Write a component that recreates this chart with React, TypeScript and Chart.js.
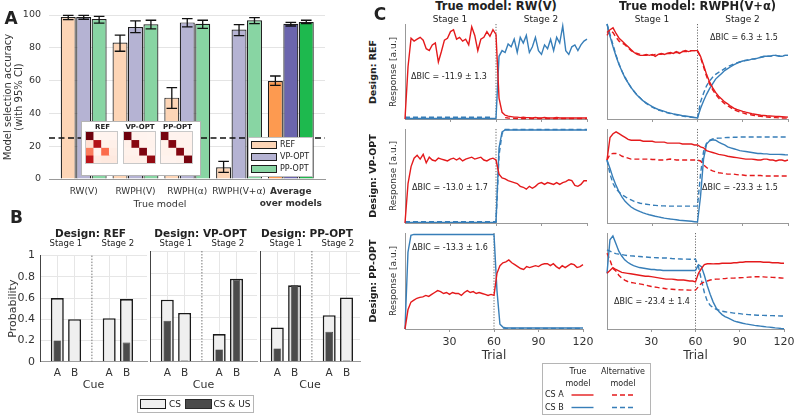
import React, { useEffect, useRef } from 'react';
import { Chart, registerables } from 'chart.js';

Chart.register(...registerables);
Chart.defaults.font.family = "'DejaVu Sans', sans-serif";
Chart.defaults.color = '#333';

const _ = null;

// ---------------- Panel A ----------------
const trueModels = ['RW(V)', 'RWPH(V)', 'RWPH(α)', 'RWPH(V+α)', 'Average'];
const designs = ['REF', 'VP-OPT', 'PP-OPT'];
const accREF = [98.8, 83.2, 49.6, 7.1, 59.7];
const accVP = [98.8, 92.7, 95.5, 91.1, 94.7];
const accPP = [97.6, 94.3, 94.7, 96.8, 95.7];
const ciLoREF = [97.2, 77.9, 43.1, 4.0, 57.1];
const ciHiREF = [99.8, 87.7, 55.7, 10.7, 62.8];
const ciLoVP = [97.4, 89.3, 92.7, 87.4, 93.3];
const ciHiVP = [99.8, 96.4, 97.8, 94.1, 95.5];
const ciLoPP = [95.1, 91.5, 91.9, 94.7, 94.7];
const ciHiPP = [99.2, 96.8, 96.8, 98.4, 96.8];
const chanceLevel = 25;
const accTicks = [0, 20, 40, 60, 80, 100];
const barLight = ['#fdd5b6', '#b5b3d3', '#88d5a3'];
const barDark = ['#fd9a50', '#6b65ad', '#1eb94e'];

// confusion matrices (rows: true model, cols: selected model), percent
const confREF = [[98.5, 0.5, 0.5, 0.5], [12, 83, 2, 3], [44, 1, 49.5, 5.5], [80, 6, 7, 7]];
const confVP = [[98.5, 1, 0.5, 0], [3, 93.5, 2, 1.5], [2, 1.5, 95.5, 1], [3, 3, 3, 91]];
const confPP = [[97, 1, 1, 1], [2, 94.5, 2, 1.5], [2, 2, 94.5, 1.5], [1, 1, 1.5, 96.5]];
const heatCols = ['RW(V)', 'RWPH(V)', 'RWPH(α)', 'RWPH(V+α)'];
const redsStops = ['#fff5f0', '#fee0d2', '#fcbba1', '#fc9272', '#fb6a4a', '#ef3b2c', '#cb181d', '#a50f15', '#67000d'];

// ---------------- Panel B ----------------
const cueLabels = ['A', 'B', 'A', 'B'];
const cuePos = [1, 2, 4, 5];
const stageSplitB = 3;
const probTicks = [0, 0.2, 0.4, 0.6, 0.8, 1];
const probTickLabels = ['0', '0.2', '0.4', '0.6', '0.8', '1'];
const csREF = [0.60, 0.40, 0.41, 0.59];
const csusREF = [0.20, 0, 0, 0.18];
const csVP = [0.56, 0.44, 0.25, 0.75];
const csusVP = [0.37, 0.01, 0.11, 0.74];
const csPP = [0.31, 0.69, 0.42, 0.58];
const csusPP = [0.12, 0.69, 0.27, 0.01];

// ---------------- Panel C ----------------
const trials = [0, 2, 4, 6, 8, 10, 12, 14, 16, 18, 20, 22, 24, 26, 28, 30, 32, 34, 36, 38, 40, 42, 44, 46, 48, 50, 52, 54, 56, 58, 60, 62, 64, 66, 68, 70, 72, 74, 76, 78, 80, 82, 84, 86, 88, 90, 92, 94, 96, 98, 100, 102, 104, 106, 108, 110, 112, 114, 116, 118, 120];
const trialTicks = [30, 60, 90, 120];
const stageSplitC = 60;

// REF design, true model RW(V)
const refRwRedTrue = [0, 55, 85, 82, 84, 86, 83, 74, 72, 78,
  80, 60, 71, 83, 85, 92, 94, 84, 86, 82,
  84, 78, 97, 88, 72, 84, 86, 92, 87, 94,
  89, 22, 7, 4, 3, 2.5, 2, 2, 1.5, 2,
  1.5, 1.5, 1, 1.5, 1, 1, 1.5, 1, 1, 1,
  1.5, 1, 1, 1, 1, 1, 1, 1, 1, 1,
  1];
const refRwRedAlt = [_, _, _, _, _, _, _, _, _, _,
  _, _, _, _, _, _, _, _, _, _,
  _, _, _, _, _, _, _, _, _, _,
  _, _, _, 1.5, 1, 0.8, 0.7, 0.6, 0.6, 0.6,
  0.5, 0.5, 0.5, 0.5, 0.5, 0.5, 0.5, 0.5, 0.5, 0.5,
  0.5, 0.5, 0.5, 0.5, 0.5, 0.5, 0.5, 0.5, 0.5, 0.5,
  0.5];
const refRwBlueTrue = [0.5, 0.5, 0.5, 0.5, 0.5, 0.5, 0.5, 0.5, 0.5, 0.5,
  0.5, 0.5, 0.5, 0.5, 0.5, 0.5, 0.5, 0.5, 0.5, 0.5,
  0.5, 0.5, 0.5, 0.5, 0.5, 0.5, 0.5, 0.5, 0.5, 0.5,
  0.5, 66, 72, 70, 79, 76, 84, 70, 86, 80,
  88, 70, 76, 86, 72, 68, 78, 74, 84, 72,
  86, 80, 98, 72, 68, 76, 78, 72, 78, 82,
  84];
const refRwBlueAlt = [1.8, 1.8, 1.8, 1.8, 1.8, 1.8, 1.8, 1.8, 1.8, 1.8,
  1.8, 1.8, 1.8, 1.8, 1.8, 1.8, 1.8, 1.8, 1.8, 1.8,
  1.8, 1.8, 1.8, 1.8, 1.8, 1.8, 1.8, 1.8, 1.8, 1.8,
  _, _, _, _, _, _, _, _, _, _,
  _, _, _, _, _, _, _, _, _, _,
  _, _, _, _, _, _, _, _, _, _,
  _];

// REF design, true model RWPH(V+α)
const refPhRedTrue = [91, 94, 96, 90, 85, 82, 79, 76, 73, 70,
  68, 67, 67, 68, 67, 68, 66, 68, 69, 68,
  69, 70, 69, 71, 69, 71, 72, 71, 72, 72,
  72, 66, 57, 47, 39, 33, 28, 24, 21, 18,
  16, 13.5, 11.5, 10, 9, 8, 7.2, 6.5, 5.5, 5,
  4.5, 4, 3.7, 3.4, 3.2, 3, 2.8, 2.6, 2.4, 2.2,
  2];
const refPhRedAlt = [88, 93, 91, 86, 82, 80, 78, 75, 72, 70,
  69, 68, 67, 67, 68, 67, 68, 68, 68, 69,
  69, 69, 70, 70, 70, 71, 71, 71, 72, 72,
  72, 65, 55, 45, 37, 31, 26, 22, 19, 16,
  14, 12, 10, 8.5, 7.5, 6.5, 5.5, 4.8, 4.2, 3.6,
  3.2, 2.8, 2.4, 2.1, 1.8, 1.6, 1.4, 1.2, 1.1, 1,
  0.9];
const refPhBlueTrue = [100, 87, 76, 66, 57, 50, 43, 38, 33, 29,
  25, 22, 19, 17, 15, 13, 11.5, 10, 9, 8,
  7, 6.2, 5.4, 4.8, 4.2, 3.6, 3.2, 2.7, 2.2, 1.6,
  1, 11, 19, 26, 32, 37, 42, 45, 48, 51,
  53, 55, 57, 58.5, 60, 61, 61.5, 62, 63, 63,
  64, 65, 66, 66, 66, 67, 67, 66, 66, 67,
  67];
const refPhBlueAlt = [100, 89, 78, 67, 58, 50, 44, 38, 33, 29,
  25, 22, 19, 16.5, 14.5, 12.5, 11, 9.5, 8.5, 7.5,
  6.5, 5.7, 5, 4.3, 3.7, 3.1, 2.6, 2.2, 1.8, 1.4,
  1, 18, 27, 35, 40, 44, 47, 49, 51, 53,
  55, 56.5, 58, 59, 60, 61, 62, 62.5, 63, 63.5,
  64, 65, 65.5, 66, 66, 66.5, 67, 66.5, 66.5, 67,
  67];

// VP-OPT design, true model RW(V)
const vpRwRedTrue = [0, 42, 60, 69, 72, 68, 73, 64, 70, 67,
  66, 69, 68, 67, 66, 68, 69, 67, 69, 66,
  68, 69, 70, 68, 69, 70, 67, 66, 68, 69,
  67, 52, 48, 47, 45, 44, 43, 42, 39, 38,
  36, 39, 37, 39, 42, 43, 41, 43, 42, 41,
  43, 41, 43, 44, 46, 45, 40, 39, 41, 45,
  45];
const vpRwBlueTrue = [0.7, 0.7, 0.7, 0.7, 0.7, 0.7, 0.7, 0.7, 0.7, 0.7,
  0.7, 0.7, 0.7, 0.7, 0.7, 0.7, 0.7, 0.7, 0.7, 0.7,
  0.7, 0.7, 0.7, 0.7, 0.7, 0.7, 0.7, 0.7, 0.7, 0.7,
  0.7, 80, 97, 99, 99, 99, 99, 99, 99, 99,
  99, 99, 99, 99, 99, 99, 99, 99, 99, 99,
  99, 99, 99, 99, 99, 99, 99, 99, 99, 99,
  99];
const vpRwBlueAlt = [1.3, 1.3, 1.3, 1.3, 1.3, 1.3, 1.3, 1.3, 1.3, 1.3,
  1.3, 1.3, 1.3, 1.3, 1.3, 1.3, 1.3, 1.3, 1.3, 1.3,
  1.3, 1.3, 1.3, 1.3, 1.3, 1.3, 1.3, 1.3, 1.3, 1.3,
  1.3, 72, 95, 99.5, 99.5, 99.5, 99.5, 99.5, 99.5, 99.5,
  99.5, 99.5, 99.5, 99.5, 99.5, 99.5, 99.5, 99.5, 99.5, 99.5,
  99.5, 99.5, 99.5, 99.5, 99.5, 99.5, 99.5, 99.5, 99.5, 99.5,
  99.5];

// VP-OPT design, true model RWPH(V+α)
const vpPhRedTrue = [67, 91, 95, 97, 95, 93, 91, 89, 88, 88,
  88, 88, 87, 87, 87, 87, 86, 86, 86, 86,
  85, 85, 85, 85, 85, 84, 84, 84, 84, 83,
  83, 81, 80, 77, 76, 75, 74, 73, 72.5, 72,
  71, 70.5, 70, 69.5, 69, 68.5, 68, 68, 68, 67.5,
  67, 67, 68, 68, 67, 67, 66, 67, 67, 66,
  67];
const vpPhRedAlt = [67, 73, 74, 74, 73, 71, 70, 69, 68, 68,
  68, 68, 68, 68, 68, 67.5, 67.5, 67, 67, 67,
  67.5, 68, 67.5, 67, 67, 67, 67, 67, 67, 67,
  67, 66, 62, 59, 57, 55.5, 54.5, 53.5, 53, 52.5,
  52, 52, 52, 51.5, 51, 51, 50.5, 50.5, 50.5, 50.5,
  50.5, 50.5, 50, 50, 50, 50, 50, 50, 50, 50,
  50];
const vpPhBlueTrue = [67, 58, 48, 40, 33, 27.5, 23, 20, 17, 15,
  13.5, 12, 10.7, 9.7, 8.8, 8, 7.2, 6.5, 5.8, 5.2,
  4.7, 4.2, 3.8, 3.4, 3, 2.7, 2.4, 2.1, 1.8, 1.4,
  1, 28, 68, 84, 87.5, 88.5, 88, 86, 84.5, 83,
  81, 80, 79, 78, 77, 76.5, 76, 75.5, 75, 74.5,
  74, 74, 73.5, 73.5, 73, 73, 73, 73, 72.8, 72.6,
  72.5];
const vpPhBlueAlt = [67, 52, 42, 36, 33, 30, 28, 26, 24.5, 23,
  22, 21, 20.5, 20, 19.5, 19, 18.8, 18.5, 18.3, 18.2,
  18, 18, 18, 18, 18, 18, 18, 18, 18, 18,
  18, 52, 76, 85, 88, 89.5, 90, 90.3, 90.5, 90.8,
  91, 91, 91.2, 91.3, 91.4, 91.5, 91.5, 91.5, 91.5, 91.5,
  91.5, 91.5, 91.5, 91.5, 91.5, 91.5, 91.5, 91.5, 91.5, 91.5,
  91.5];

// PP-OPT design, true model RW(V)
const ppRwRedTrue = [0, 20, 28, 30, 32, 33, 33.5, 35, 34, 36,
  38, 40, 39, 37, 38, 36, 38, 37, 37, 35,
  38, 40, 38, 39, 37, 38, 37, 36, 35, 36,
  35, 58, 66, 69, 70, 72, 69, 67, 65, 63,
  62, 65, 64, 65, 66, 65, 67, 68, 68, 66,
  68, 65, 63, 66, 64, 66, 68, 67, 64, 65,
  67];
const ppRwBlueTrue = [0, 80, 97.5, 98.5, 98.5, 98.5, 98.5, 98.5, 98.5, 98.5,
  98.5, 98.5, 98.5, 98.5, 98.5, 98.5, 98.5, 98.5, 98.5, 98.5,
  98.5, 98.5, 98.5, 98.5, 98.5, 98.5, 98.5, 98.5, 98.5, 98.5,
  98.5, 40, 5, 2, 1, 1, 1, 1, 1, 1,
  1, 1, 1, 1, 1, 1, 1, 1, 1, 1,
  1, 1, 1, 1, 1, 1, 1, 1, 1, 1,
  1];
const ppRwBlueAlt = [_, _, _, _, _, _, _, _, _, _,
  _, _, _, _, _, _, _, _, _, _,
  _, _, _, _, _, _, _, _, _, _,
  _, _, _, 1, 0.6, 0.6, 0.6, 0.6, 0.6, 0.6,
  0.6, 0.6, 0.6, 0.6, 0.6, 0.6, 0.6, 0.6, 0.6, 0.6,
  0.6, 0.6, 0.6, 0.6, 0.6, 0.6, 0.6, 0.6, 0.6, 0.6,
  0.6];

// PP-OPT design, true model RWPH(V+α)
const ppPhRedTrue = [58, 61, 64, 62, 60.5, 59, 58.5, 58, 57.5, 57,
  56.5, 56, 55.5, 55, 55, 54.5, 54, 53.5, 53, 52.5,
  52, 52, 52, 51.5, 51, 51, 51, 50.5, 50, 50,
  49, 58, 63, 67, 68, 68, 67.8, 68, 68, 68.5,
  68.5, 68.5, 68.5, 69, 69, 69.5, 69.5, 70, 70, 70,
  70, 70, 70, 69.5, 69.5, 69.5, 69, 69, 69, 68.5,
  68.5];
const ppPhRedAlt = [79, 72, 63, 60.5, 56, 53, 51, 49.5, 48.5, 48,
  47.5, 47, 46.5, 45.8, 45, 44.3, 43.8, 43.3, 42.8, 42.4,
  42, 41.7, 41.4, 41.1, 41, 40.8, 40.7, 40.6, 40.5, 40.5,
  40.5, 44, 47.5, 49, 50, 51, 51.5, 52, 52, 52.5,
  52.5, 53, 53, 53, 53.2, 53.4, 53.5, 53.7, 54, 54.2,
  54.4, 54.5, 54.5, 54.3, 54, 54, 53.8, 53.6, 53.4, 53.2,
  53];
const ppPhBlueTrue = [58, 93, 97, 89, 81, 76, 72, 69.5, 67.5, 66,
  65, 64, 63.5, 63, 62.5, 62, 62, 61.5, 61.5, 61,
  61, 61, 61, 61, 61, 61, 61, 61, 61, 61,
  61, 67, 65, 56, 45, 36, 28, 22, 18, 15,
  13, 11.5, 10, 8.5, 7.5, 6.8, 6, 5.3, 4.8, 4.3,
  3.8, 3.4, 3, 2.6, 2.2, 1.9, 1.6, 1.2, 0.9, 0.5,
  0.3];
const ppPhBlueAlt = [82.5, 81, 79.5, 78.5, 78, 77.5, 77, 76.5, 76.2, 76,
  75.7, 75.5, 75.2, 75, 74.8, 74.5, 74.3, 74.2, 74, 74,
  74, 73.7, 73.4, 73.2, 73, 72.9, 72.8, 72.8, 72.7, 72.7,
  72.7, 65, 51, 38, 29, 24.5, 22.5, 20.5, 19.5, 18.5,
  18, 17.5, 17, 16.5, 16.2, 16, 15.5, 15.3, 15, 14.8,
  14.6, 14.4, 14.3, 14.2, 14, 14, 13.9, 13.8, 13.7, 13.6,
  13.6];

const bicLabels = ['ΔBIC = -11.9 ± 1.3', 'ΔBIC = 6.3 ± 1.5', 'ΔBIC = -13.0 ± 1.7', 'ΔBIC = -23.3 ± 1.5', 'ΔBIC = -13.3 ± 1.6', 'ΔBIC = -23.4 ± 1.4'];
const RED = '#e41a1c';
const BLUE = '#377eb8';

// ---------------- helpers ----------------
function hexToRgb(h: string) {
  const n = parseInt(h.slice(1), 16);
  return [(n >> 16) & 255, (n >> 8) & 255, n & 255];
}
function reds(v: number) {
  const t = Math.max(0, Math.min(1, v / 100)) * 8;
  const i = Math.min(7, Math.floor(t));
  const f = t - i;
  const a = hexToRgb(redsStops[i]);
  const b = hexToRgb(redsStops[i + 1]);
  return `rgb(${a.map((c, k) => Math.round(c + (b[k] - c) * f)).join(',')})`;
}

const baseOpts = {
  responsive: false,
  maintainAspectRatio: false,
  animation: false,
  events: [],
};

function ChartCanvas({ x, y, w, h, make }: { x: number; y: number; w: number; h: number; make: () => any }) {
  const ref = useRef<HTMLCanvasElement | null>(null);
  useEffect(() => {
    if (!ref.current) return;
    const chart = new Chart(ref.current, make());
    return () => chart.destroy();
  }, []);
  return <canvas ref={ref} width={w} height={h} style={{ position: 'absolute', left: x, top: y, width: w, height: h }} />;
}

function Txt({ x, y, s, b, rot, left, color, children }: any) {
  return (
    <div
      style={{
        position: 'absolute', left: x, top: y,
        transform: `translate(${left ? '0' : '-50%'},-50%)${rot ? ' rotate(-90deg)' : ''}`,
        fontSize: s, fontWeight: b ? 'bold' : 'normal', whiteSpace: 'nowrap', lineHeight: 1,
        color: color || '#222',
      }}
    >
      {children}
    </div>
  );
}

// ---------------- Panel A chart ----------------
const aOverlay = {
  id: 'aOverlay',
  afterDatasetsDraw(chart: any) {
    const { ctx, chartArea, scales } = chart;
    const ys = scales.y;
    const lows = [ciLoREF, ciLoVP, ciLoPP];
    const highs = [ciHiREF, ciHiVP, ciHiPP];
    ctx.save();
    ctx.strokeStyle = '#111';
    ctx.lineWidth = 1.3;
    lows.forEach((lo, d) => {
      const meta = chart.getDatasetMeta(d);
      meta.data.forEach((bar: any, i: number) => {
        const x = bar.x;
        const y1 = ys.getPixelForValue(lo[i]);
        const y2 = ys.getPixelForValue(highs[d][i]);
        ctx.beginPath();
        ctx.moveTo(x, y1); ctx.lineTo(x, y2);
        ctx.moveTo(x - 5.3, y1); ctx.lineTo(x + 5.3, y1);
        ctx.moveTo(x - 5.3, y2); ctx.lineTo(x + 5.3, y2);
        ctx.stroke();
      });
    });
    const yc = ys.getPixelForValue(chanceLevel);
    ctx.setLineDash([6, 3.5]);
    ctx.beginPath();
    ctx.moveTo(chartArea.left, yc);
    ctx.lineTo(chartArea.right, yc);
    ctx.stroke();
    ctx.restore();
  },
};

const makeA = () => ({
  type: 'bar',
  data: {
    datasets: [accREF, accVP, accPP].map((vals, d) => ({
      label: designs[d],
      data: vals.map((v, i) => ({ x: i, y: v })),
      backgroundColor: vals.map((_v, i) => (i === trueModels.length - 1 ? barDark[d] : barLight[d])),
      borderColor: '#1e1e1e',
      borderWidth: 1.2,
      categoryPercentage: 0.895,
      barPercentage: 0.97,
    })),
  },
  options: {
    ...baseOpts,
    layout: { padding: { top: 15, right: 5, left: 0, bottom: 0 } },
    plugins: { legend: { display: false }, tooltip: { enabled: false } },
    scales: {
      x: {
        type: 'linear', min: -0.67, max: 4.66, offset: false,
        afterBuildTicks: (s: any) => { s.ticks = trueModels.map((_m, i) => ({ value: i })); },
        ticks: {
          autoSkip: false, maxRotation: 0, padding: 6.2, color: '#333',
          callback: (_v: any, i: number) => (i === 4 ? ['Average', 'over models'] : trueModels[i]),
          font: (c: any) => ({ size: 9, weight: c.index === 4 ? 'bold' : 'normal', lineHeight: 1.35 }),
        },
        grid: { display: false, drawTicks: false, offset: false },
        border: { color: '#999', width: 1 },
        afterFit: (s: any) => { s.height = 36; },
      },
      y: {
        min: 0, max: 100,
        afterBuildTicks: (s: any) => { s.ticks = accTicks.map((v) => ({ value: v })); },
        ticks: { padding: 8, color: '#333', font: { size: 9.5 } },
        grid: { color: '#e4e4e4', drawTicks: false },
        border: { display: false },
        title: {
          display: true, text: ['Model selection accuracy', '(with 95% CI)'], color: '#333',
          font: { size: 10, lineHeight: 1.15 }, padding: { top: 2.5, bottom: 0 },
        },
        afterFit: (s: any) => { s.width = 49; },
      },
    },
  },
  plugins: [aOverlay],
});

const makeHeat = (mat: number[][]) => () => ({
  type: 'bar',
  data: {
    labels: heatCols,
    datasets: mat.map((row) => ({
      data: row.map(() => 1),
      backgroundColor: row.map(reds),
      borderWidth: 0,
      categoryPercentage: 1,
      barPercentage: 1,
      inflateAmount: 0.3,
    })),
  },
  options: {
    ...baseOpts,
    layout: { padding: 0 },
    plugins: { legend: { display: false }, tooltip: { enabled: false } },
    scales: {
      x: { display: false, stacked: true },
      y: { display: false, stacked: true, reverse: true, min: 0, max: 4 },
    },
  },
});

// ---------------- Panel B charts ----------------
const bSep = {
  id: 'bSep',
  beforeDatasetsDraw(chart: any) {
    const { ctx, chartArea, scales } = chart;
    const x = scales.x.getPixelForValue(stageSplitB);
    ctx.save();
    ctx.strokeStyle = '#666';
    ctx.lineWidth = 0.9;
    ctx.setLineDash([1.5, 1.5]);
    ctx.beginPath();
    ctx.moveTo(x, chartArea.top);
    ctx.lineTo(x, chartArea.bottom);
    ctx.stroke();
    ctx.restore();
  },
};

const makeB = (k: number, cs: number[], csus: number[], xMax: number) => () => ({
  type: 'bar',
  data: {
    datasets: [
      {
        label: 'CS & US', data: csus.map((v, i) => ({ x: cuePos[i], y: v })),
        backgroundColor: '#4b4b4b', borderColor: '#2a2a2a', borderWidth: 0.6,
        grouped: false, categoryPercentage: 0.75, barPercentage: 0.59, order: 0,
      },
      {
        label: 'CS', data: cs.map((v, i) => ({ x: cuePos[i], y: v })),
        backgroundColor: '#efefef', borderColor: '#1a1a1a', borderWidth: 1.6,
        grouped: false, categoryPercentage: 0.75, barPercentage: 1, order: 1,
      },
    ],
  },
  options: {
    ...baseOpts,
    layout: { padding: { top: 7, right: 4, left: 0, bottom: 0 } },
    plugins: { legend: { display: false }, tooltip: { enabled: false } },
    scales: {
      x: {
        type: 'linear', min: 0, max: xMax, offset: false,
        afterBuildTicks: (s: any) => { s.ticks = cuePos.map((v) => ({ value: v })); },
        ticks: { callback: (_v: any, i: number) => cueLabels[i], font: { size: 10.5 }, padding: 5, color: '#333', maxRotation: 0, autoSkip: false },
        grid: { color: '#e6e6e6', drawTicks: false, offset: false },
        border: { color: '#999' },
        title: { display: true, text: 'Cue', font: { size: 11 }, padding: { top: 0, bottom: 0 }, color: '#333' },
        afterFit: (s: any) => { s.height = 30.3; },
      },
      y: {
        min: 0, max: 1,
        afterBuildTicks: (s: any) => { s.ticks = probTicks.map((v) => ({ value: v })); },
        ticks: { display: k === 0, callback: (_v: any, i: number) => probTickLabels[i], font: { size: 11 }, padding: 5, color: '#333' },
        grid: { color: '#e6e6e6', drawTicks: false },
        border: { color: '#444', width: 1 },
        title: { display: k === 0, text: 'Probability', font: { size: 11 }, padding: { top: 6.2, bottom: 0 }, color: '#333' },
        afterFit: (s: any) => { s.width = 40; },
      },
    },
  },
  plugins: [bSep],
});

// ---------------- Panel C charts ----------------
const cSep = {
  id: 'cSep',
  beforeDatasetsDraw(chart: any) {
    const { ctx, chartArea, scales } = chart;
    const x = scales.x.getPixelForValue(stageSplitC);
    ctx.save();
    ctx.strokeStyle = '#444';
    ctx.lineWidth = 0.8;
    ctx.setLineDash([1.2, 1.6]);
    ctx.beginPath();
    ctx.moveTo(x, chartArea.top);
    ctx.lineTo(x, chartArea.bottom);
    ctx.stroke();
    ctx.restore();
  },
};

const lineDs = (vals: (number | null)[] | null, color: string, dashed: boolean) =>
  vals
    ? {
        data: trials.map((t, i) => ({ x: t, y: vals[i] })),
        borderColor: color, borderWidth: 1.4, borderDash: dashed ? [5, 3] : [],
        pointRadius: 0, tension: 0, spanGaps: false, clip: false, fill: false,
      }
    : null;

const makeC = (series: any[], bottom: boolean, xAxisH: number) => () => ({
  type: 'line',
  data: {
    datasets: [
      lineDs(series[0], RED, false),
      lineDs(series[2], BLUE, false),
      lineDs(series[1], RED, true),
      lineDs(series[3], BLUE, true),
    ].filter(Boolean),
  },
  options: {
    ...baseOpts,
    layout: { padding: { top: 6, right: 10, left: 0, bottom: 0 } },
    plugins: { legend: { display: false }, tooltip: { enabled: false } },
    scales: {
      x: {
        type: 'linear', min: 0, max: 120,
        afterBuildTicks: (s: any) => { s.ticks = trialTicks.map((v) => ({ value: v })); },
        ticks: { display: bottom, font: { size: 11 }, padding: 3.5, color: '#333', maxRotation: 0, autoSkip: false },
        grid: { display: true, drawOnChartArea: false, drawTicks: true, tickLength: 3, color: '#999' },
        border: { color: '#999' },
        title: { display: bottom, text: 'Trial', font: { size: 12 }, padding: 0, color: '#333' },
        afterFit: (s: any) => { s.height = xAxisH; },
      },
      y: {
        min: 0, max: 100,
        ticks: { display: false },
        grid: { display: false },
        border: { color: '#999', width: 1 },
        afterFit: (s: any) => { s.width = 10; },
      },
    },
  },
  plugins: [cSep],
});

const cPanels = [
  { series: [refRwRedTrue, refRwRedAlt, refRwBlueTrue, refRwBlueAlt], col: 0, row: 0 },
  { series: [refPhRedTrue, refPhRedAlt, refPhBlueTrue, refPhBlueAlt], col: 1, row: 0 },
  { series: [vpRwRedTrue, null, vpRwBlueTrue, vpRwBlueAlt], col: 0, row: 1 },
  { series: [vpPhRedTrue, vpPhRedAlt, vpPhBlueTrue, vpPhBlueAlt], col: 1, row: 1 },
  { series: [ppRwRedTrue, null, ppRwBlueTrue, ppRwBlueAlt], col: 0, row: 2 },
  { series: [ppPhRedTrue, ppPhRedAlt, ppPhBlueTrue, ppPhBlueAlt], col: 1, row: 2 },
];
const colX = [[405, 587], [607, 788]];
const rowY = [[24, 119], [129, 223], [233, 329]];
const bicPos = [[449, 77], [744, 38], [450, 188], [740, 188], [450, 248], [652, 302]];

const bDesigns = [
  { name: 'Design: REF', cs: csREF, csus: csusREF, plotLeft: 40, plotW: 107 },
  { name: 'Design: VP-OPT', cs: csVP, csus: csusVP, plotLeft: 150, plotW: 107 },
  { name: 'Design: PP-OPT', cs: csPP, csus: csusPP, plotLeft: 260, plotW: 100 },
];
const bUnit = 17.3;

export default function App() {
  return (
    <div
      style={{
        position: 'absolute', left: 0, top: 0, width: 800, height: 417, background: '#fff',
        overflow: 'hidden', fontFamily: "'DejaVu Sans', sans-serif", color: '#222',
      }}
    >
      {/* Panel A */}
      <ChartCanvas x={0} y={0} w={330} h={215} make={makeA} />
      <Txt x={160} y={204} s={9.5} color="#333">True model</Txt>
      <div style={{ position: 'absolute', left: 81, top: 121, width: 118, height: 53, background: '#fff', border: '1px solid #b5b5b5' }} />
      {[confREF, confVP, confPP].map((m, i) => (
        <React.Fragment key={i}>
          <Txt x={[102.5, 140, 177.5][i]} y={127} s={7} b>{designs[i]}</Txt>
          <div style={{ position: 'absolute', left: [86, 123.5, 161][i] - 1, top: 131, width: 33, height: 33, border: '1px solid #c8c8c8', boxSizing: 'border-box' }} />
          <ChartCanvas x={[86, 123.5, 161][i]} y={132} w={31} h={31} make={makeHeat(m)} />
        </React.Fragment>
      ))}
      <div style={{ position: 'absolute', left: 248, top: 137, width: 63, height: 38, background: '#fff', border: '1px solid #c0c0c0' }} />
      {designs.map((d, i) => (
        <React.Fragment key={d}>
          <div style={{ position: 'absolute', left: 251, top: 141 + i * 12, width: 26, height: 8, background: barLight[i], border: '1.2px solid #1e1e1e', boxSizing: 'border-box' }} />
          <Txt x={280} y={145 + i * 12} s={8} left>{d}</Txt>
        </React.Fragment>
      ))}

      {/* Panel B */}
      {bDesigns.map((d, k) => (
        <React.Fragment key={d.name}>
          <ChartCanvas
            x={d.plotLeft - 40} y={244} w={d.plotW + 44} h={148}
            make={makeB(k, d.cs, d.csus, d.plotW / bUnit)}
          />
          <Txt x={d.plotLeft + d.plotW / 2 - 3} y={232.5} s={10.5} b>{d.name}</Txt>
          <Txt x={d.plotLeft + 1.5 * bUnit} y={242.5} s={8.5}>Stage 1</Txt>
          <Txt x={d.plotLeft + 4.5 * bUnit} y={242.5} s={8.5}>Stage 2</Txt>
        </React.Fragment>
      ))}
      <div style={{ position: 'absolute', left: 137, top: 395, width: 115, height: 16, background: '#fff', border: '1px solid #b5b5b5' }} />
      <div style={{ position: 'absolute', left: 139.5, top: 398.5, width: 26.5, height: 10, background: '#efefef', border: '1.5px solid #1a1a1a', boxSizing: 'border-box' }} />
      <Txt x={169} y={403.5} s={9} left>CS</Txt>
      <div style={{ position: 'absolute', left: 185, top: 398.5, width: 26.5, height: 10, background: '#4b4b4b', border: '1px solid #2a2a2a', boxSizing: 'border-box' }} />
      <Txt x={213.5} y={403.5} s={9} left>CS &amp; US</Txt>

      {/* Panel C */}
      {cPanels.map((p, i) => {
        const [xl, xr] = colX[p.col];
        const [yt, yb] = rowY[p.row];
        const bottom = p.row === 2;
        const canvasTop = yt - 6;
        const canvasBottom = bottom ? 363 : yb + 8;
        return (
          <ChartCanvas
            key={i}
            x={xl - 10} y={canvasTop} w={xr - xl + 20} h={canvasBottom - canvasTop}
            make={makeC(p.series, bottom, canvasBottom - yb)}
          />
        );
      })}
      {bicLabels.map((t, i) => (
        <Txt key={t} x={bicPos[i][0]} y={bicPos[i][1]} s={8}>{t}</Txt>
      ))}
      <Txt x={496} y={7} s={11.5} b>True model: RW(V)</Txt>
      <Txt x={697.5} y={7} s={11.5} b>True model: RWPH(V+α)</Txt>
      <Txt x={450} y={18.5} s={9}>Stage 1</Txt>
      <Txt x={541} y={18.5} s={9}>Stage 2</Txt>
      <Txt x={652} y={18.5} s={9}>Stage 1</Txt>
      <Txt x={742.5} y={18.5} s={9}>Stage 2</Txt>
      {['Design: REF', 'Design: VP-OPT', 'Design: PP-OPT'].map((t, r) => (
        <React.Fragment key={t}>
          <Txt x={373} y={(rowY[r][0] + rowY[r][1]) / 2} s={9.5} b rot>{t}</Txt>
          <Txt x={392.5} y={(rowY[r][0] + rowY[r][1]) / 2} s={9} rot color="#333">Response [a.u.]</Txt>
        </React.Fragment>
      ))}
      {/* Panel C legend */}
      <div style={{ position: 'absolute', left: 542, top: 363, width: 107, height: 50, background: '#fff', border: '1px solid #b5b5b5' }} />
      <Txt x={578} y={371.5} s={8}>True</Txt>
      <Txt x={578} y={383.5} s={8}>model</Txt>
      <Txt x={623} y={371.5} s={8}>Alternative</Txt>
      <Txt x={623} y={383.5} s={8}>model</Txt>
      <Txt x={545} y={395} s={8} left>CS A</Txt>
      <Txt x={545} y={407.5} s={8} left>CS B</Txt>
      <svg width={800} height={417} style={{ position: 'absolute', left: 0, top: 0, pointerEvents: 'none' }}>
        <line x1={571.5} y1={395} x2={593.5} y2={395} stroke={RED} strokeWidth={1.4} />
        <line x1={612} y1={395} x2={636} y2={395} stroke={RED} strokeWidth={1.4} strokeDasharray="5 3" />
        <line x1={571.5} y1={407.5} x2={593.5} y2={407.5} stroke={BLUE} strokeWidth={1.4} />
        <line x1={612} y1={407.5} x2={636} y2={407.5} stroke={BLUE} strokeWidth={1.4} strokeDasharray="5 3" />
      </svg>

      {/* Panel letters */}
      <Txt x={11} y={17.5} s={17} b>A</Txt>
      <Txt x={16.5} y={216.5} s={17} b>B</Txt>
      <Txt x={380} y={13.5} s={17} b>C</Txt>
    </div>
  );
}
